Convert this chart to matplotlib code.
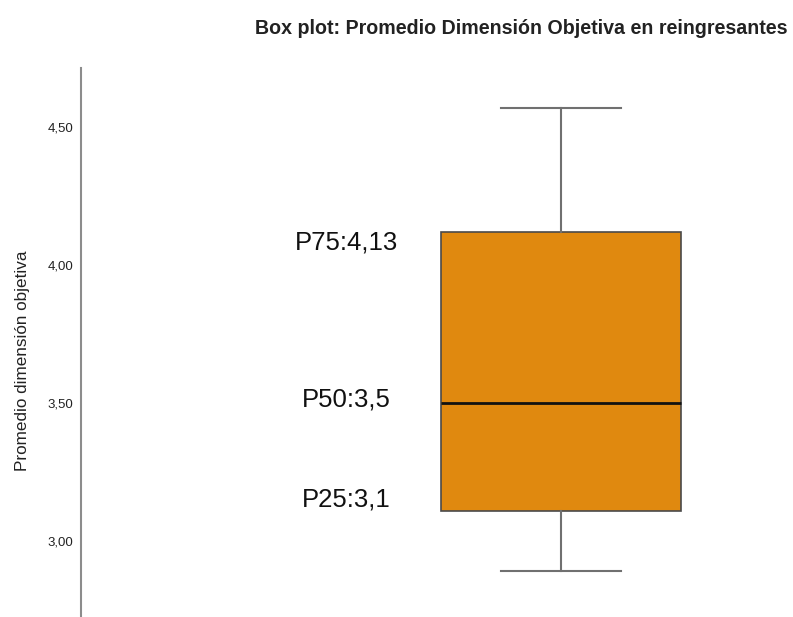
import matplotlib
matplotlib.use('Agg')
import matplotlib.pyplot as plt

# estadísticos del box plot
whisker_low = 2.89
p25 = 3.11
p50 = 3.50
p75 = 4.12
whisker_high = 4.57
labels = ['P75:4,13', 'P50:3,5', 'P25:3,1']
label_values = [p75, p50, p25]
yticks = [3.0, 3.5, 4.0, 4.5]
ytick_labels = ['3,00', '3,50', '4,00', '4,50']

plt.rcParams['font.family'] = ['Liberation Sans', 'DejaVu Sans']

fig = plt.figure(figsize=(7.93, 6.17), dpi=100)
ax = fig.add_axes([81 / 793, 0, 1 - 81 / 793, 1 - 68 / 617])

stats = [dict(whislo=whisker_low, q1=p25, med=p50, q3=p75, whishi=whisker_high, fliers=[])]
ax.bxp(stats, positions=[0], widths=1.0, patch_artist=True, showfliers=False,
       boxprops=dict(facecolor='#E0890F', edgecolor='#4a4a4a', linewidth=1.2),
       medianprops=dict(color='#111111', linewidth=2),
       whiskerprops=dict(color='#707070', linewidth=1.5),
       capprops=dict(color='#707070', linewidth=1.5),
       capwidths=0.5)

ax.set_xlim(-2.004, 0.967)
ax.set_ylim(2.725, 4.714)

ax.set_yticks(yticks)
ax.set_yticklabels(ytick_labels, fontsize=9.5, color='#222222')
ax.tick_params(axis='y', length=0, pad=5.5)
ax.set_xticks([])

for s in ['top', 'right', 'bottom']:
    ax.spines[s].set_visible(False)
ax.spines['left'].set_color('#8c8c8c')
ax.spines['left'].set_linewidth(1.5)

offsets = [-11, 4, 11]
for txt, v, off in zip(labels, label_values, offsets):
    ax.annotate(txt, xy=(-0.896, v), xytext=(0, off), textcoords='offset pixels',
                ha='center', va='center', fontsize=18.5, color='#111111')

ax.set_ylabel('Promedio dimensión objetiva', fontsize=12.3, color='#222222',
              family=['Liberation Sans Narrow', 'Liberation Sans', 'DejaVu Sans'])
ax.yaxis.set_label_coords(-0.071, 0.466)

fig.text(521 / 793, 1 - 28 / 617, 'Box plot: Promedio Dimensión Objetiva en reingresantes',
         ha='center', va='center', fontsize=14.15, fontweight='bold', color='#222222')

fig.savefig('out.png', dpi=100)
